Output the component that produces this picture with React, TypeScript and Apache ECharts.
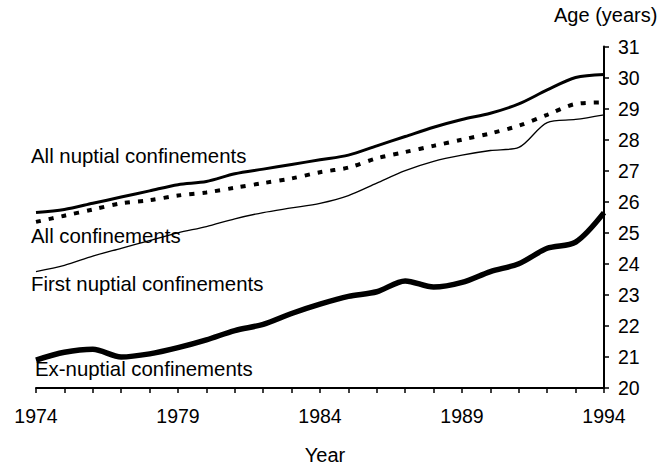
import React, { useEffect, useRef } from "react";
import * as echarts from "echarts";

const years = [1974, 1975, 1976, 1977, 1978, 1979, 1980, 1981, 1982, 1983, 1984, 1985, 1986, 1987, 1988, 1989, 1990, 1991, 1992, 1993, 1994];
const allNuptial = [25.65, 25.75, 25.95, 26.15, 26.35, 26.55, 26.65, 26.9, 27.05, 27.2, 27.35, 27.5, 27.8, 28.1, 28.4, 28.65, 28.85, 29.15, 29.6, 30.0, 30.1];
const allConfinements = [25.35, 25.55, 25.75, 25.95, 26.05, 26.2, 26.3, 26.45, 26.6, 26.75, 26.95, 27.1, 27.4, 27.6, 27.8, 28.0, 28.2, 28.45, 28.8, 29.15, 29.2];
const firstNuptial = [23.75, 23.95, 24.25, 24.5, 24.75, 25.0, 25.2, 25.45, 25.65, 25.8, 25.95, 26.2, 26.6, 27.0, 27.3, 27.5, 27.65, 27.75, 28.55, 28.65, 28.8];
const exNuptial = [20.9, 21.15, 21.25, 21.0, 21.1, 21.3, 21.55, 21.85, 22.05, 22.4, 22.7, 22.95, 23.1, 23.45, 23.25, 23.4, 23.75, 24.0, 24.5, 24.7, 25.65];
const labelYears = [1974, 1979, 1984, 1989, 1994];

const FONT = "'Liberation Sans', Arial, sans-serif";

export default function App() {
  const ref = useRef<HTMLDivElement>(null);
  useEffect(() => {
    if (!ref.current) return;
    const chart = echarts.init(ref.current, null, { renderer: "svg" });
    const mk = (vals: number[]) => years.map((y, i) => [y, vals[i]]);
    const txt = (text: string, x: number, y: number, size: number, align = "left") => ({
      type: "text",
      x,
      y,
      style: { text, fill: "#000", font: `${size}px ${FONT}`, textAlign: align, textVerticalAlign: "middle" },
    });
    chart.setOption({
      animation: false,
      backgroundColor: "#fff",
      grid: { left: 36, right: 61, top: 46.5, bottom: 78 },
      xAxis: {
        type: "value",
        min: 1974,
        max: 1994,
        interval: 1,
        splitLine: { show: false },
        axisLine: { show: true, lineStyle: { color: "#000", width: 2 } },
        axisTick: { show: true, length: 5, lineStyle: { color: "#000", width: 1.5 } },
        axisLabel: {
          color: "#000",
          fontSize: 19.5,
          fontFamily: FONT,
          margin: 18,
          formatter: (v: number) => (labelYears.includes(v) ? String(v) : ""),
        },
      },
      yAxis: {
        type: "value",
        position: "right",
        min: 20,
        max: 31,
        interval: 1,
        splitLine: { show: false },
        axisLine: { show: true, lineStyle: { color: "#000", width: 2 } },
        axisTick: { show: true, length: 5, lineStyle: { color: "#000", width: 1.5 } },
        axisLabel: { color: "#000", fontSize: 19.5, fontFamily: FONT, margin: 14 },
      },
      series: [
        {
          name: "All nuptial confinements",
          type: "line",
          data: mk(allNuptial),
          smooth: 0.3,
          symbol: "none",
          lineStyle: { color: "#000", width: 3 },
        },
        {
          name: "All confinements",
          type: "line",
          data: mk(allConfinements),
          smooth: 0.3,
          symbol: "none",
          lineStyle: { color: "#000", width: 4, type: [5, 8] },
        },
        {
          name: "First nuptial confinements",
          type: "line",
          data: mk(firstNuptial),
          smooth: 0.3,
          symbol: "none",
          lineStyle: { color: "#000", width: 1.3 },
        },
        {
          name: "Ex-nuptial confinements",
          type: "line",
          data: mk(exNuptial),
          smooth: 0.3,
          symbol: "none",
          lineStyle: { color: "#000", width: 5.5 },
        },
      ],
      graphic: [
        txt("Age (years)", 554, 15, 20),
        txt("Year", 325, 455, 20, "center"),
        txt("All nuptial confinements", 31, 156, 20.4),
        txt("All confinements", 31, 236, 20.4),
        txt("First nuptial confinements", 31, 284, 20.4),
        txt("Ex-nuptial confinements", 35, 369, 20.4),
      ],
    });
    return () => chart.dispose();
  }, []);
  return (
    <div
      ref={ref}
      style={{ position: "fixed", left: 0, top: 0, width: 665, height: 466, background: "#fff" }}
    />
  );
}
